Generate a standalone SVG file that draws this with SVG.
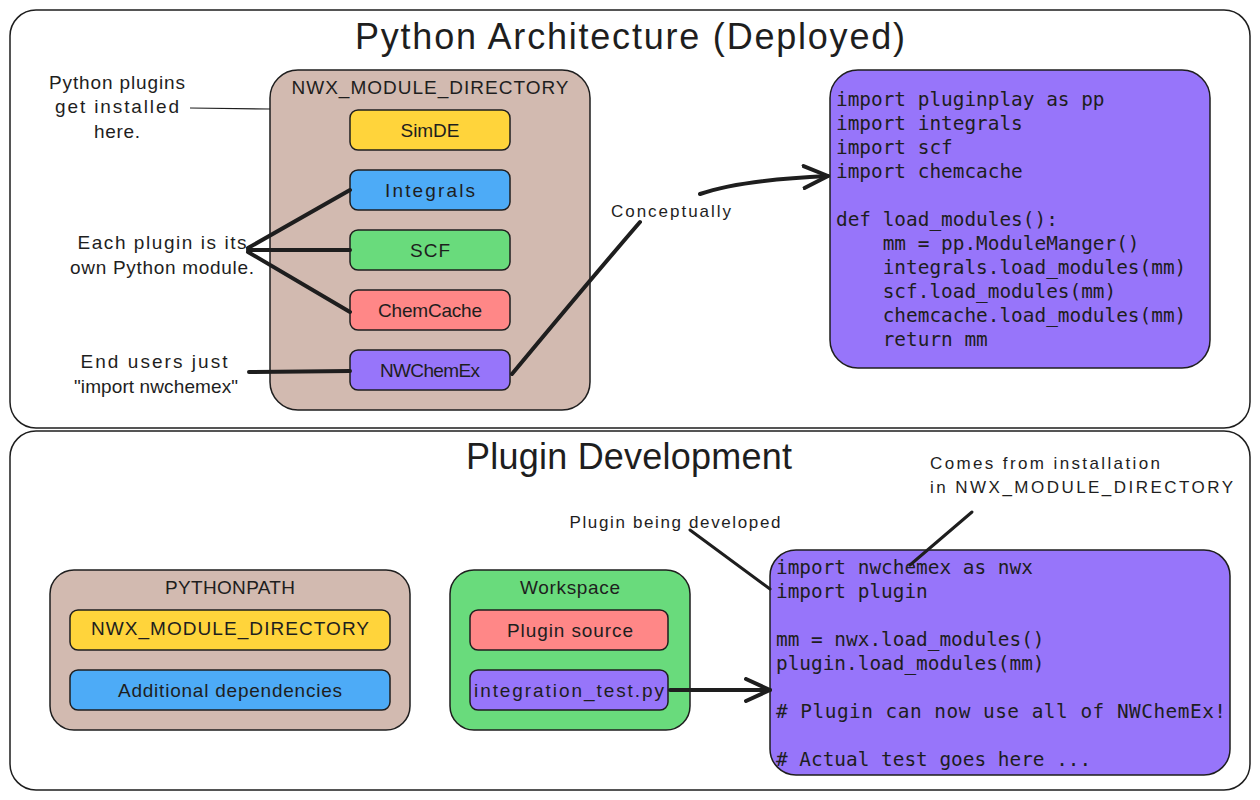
<svg xmlns="http://www.w3.org/2000/svg" width="1260" height="800" viewBox="0 0 1260 800">
<style>
.frame{fill:#fff;stroke:#1e1e1e;stroke-width:1.5}
.box{stroke:#1e1e1e;stroke-width:1.5}
.tan{fill:#d2bab0}
.yel{fill:#ffd43b}
.blu{fill:#4dabf7}
.grn{fill:#69db7c}
.red{fill:#ff8787}
.pur{fill:#9775fa}
.t{font-family:"Liberation Sans","Open Sans",sans-serif;fill:#1e1e1e}
.c{text-anchor:middle}
.code{font-family:"DejaVu Sans Mono","Liberation Mono",monospace;font-size:19.4px;fill:#1e1e1e}
.thick{fill:none;stroke:#1e1e1e;stroke-width:4;stroke-linecap:round}
.thin{fill:none;stroke:#1e1e1e;stroke-width:1.2}
.med{fill:none;stroke:#1e1e1e;stroke-width:3;stroke-linecap:round}
</style>
<defs>
<marker id="arr" viewBox="0 0 28 26" refX="26" refY="13" markerWidth="28" markerHeight="26" markerUnits="userSpaceOnUse" orient="auto">
<path d="M2,2 L26,13 L2,24" fill="none" stroke="#1e1e1e" stroke-width="4" stroke-linecap="round" stroke-linejoin="round"/>
</marker>
</defs>
<rect width="1260" height="800" fill="#fff"/>

<g id="frame-deployed">
<rect class="frame" x="10" y="10" width="1240" height="418" rx="26"/>
<text class="t c" x="630" y="49" font-size="36" textLength="550">Python Architecture (Deployed)</text>
</g>
<g id="frame-dev">
<rect class="frame" x="10" y="431" width="1240" height="359" rx="26"/>
<text class="t c" x="629" y="469" font-size="36" textLength="326">Plugin Development</text>
</g>

<g id="module-dir">
<rect class="box tan" x="270" y="70" width="320" height="340" rx="28"/>
<text class="t c" x="430" y="94" font-size="19" textLength="277">NWX_MODULE_DIRECTORY</text>
</g>
<g id="simde"><rect class="box yel" x="350" y="110" width="160" height="40" rx="8"/><text class="t c" x="430" y="137" font-size="19" textLength="59">SimDE</text></g>
<g id="integrals"><rect class="box blu" x="350" y="170" width="160" height="40" rx="8"/><text class="t c" x="430" y="197" font-size="19" textLength="90">Integrals</text></g>
<g id="scf"><rect class="box grn" x="350" y="230" width="160" height="40" rx="8"/><text class="t c" x="430" y="257" font-size="19" textLength="40">SCF</text></g>
<g id="chemcache"><rect class="box red" x="350" y="290" width="160" height="40" rx="8"/><text class="t c" x="430" y="317" font-size="19" textLength="104">ChemCache</text></g>
<g id="nwchemex"><rect class="box pur" x="350" y="350" width="160" height="40" rx="8"/><text class="t c" x="430" y="377" font-size="19" textLength="100">NWChemEx</text></g>

<g id="note-installed">
<text class="t c" x="117" y="89" font-size="19" textLength="136">Python plugins</text>
<text class="t c" x="117" y="113" font-size="19" textLength="124">get installed</text>
<text class="t c" x="117" y="138" font-size="19" textLength="46">here.</text>
</g>
<g id="note-each">
<text class="t c" x="162" y="249" font-size="19" textLength="169">Each plugin is its</text>
<text class="t c" x="162" y="274" font-size="19" textLength="184">own Python module.</text>
</g>
<g id="note-end">
<text class="t c" x="154" y="368" font-size="19" textLength="147">End users just</text>
<text class="t c" x="156" y="393" font-size="19" textLength="164">"import nwchemex"</text>
</g>

<g id="code-deployed">
<rect class="box pur" x="830" y="70" width="380" height="298" rx="28"/>
<text class="code" x="836" y="106">import pluginplay as pp</text>
<text class="code" x="836" y="130">import integrals</text>
<text class="code" x="836" y="154">import scf</text>
<text class="code" x="836" y="178">import chemcache</text>
<text class="code" x="836" y="226">def load_modules():</text>
<text class="code" x="836" y="250" xml:space="preserve">    mm = pp.ModuleManger()</text>
<text class="code" x="836" y="274" xml:space="preserve">    integrals.load_modules(mm)</text>
<text class="code" x="836" y="298" xml:space="preserve">    scf.load_modules(mm)</text>
<text class="code" x="836" y="322" xml:space="preserve">    chemcache.load_modules(mm)</text>
<text class="code" x="836" y="346" xml:space="preserve">    return mm</text>
</g>

<g id="pythonpath">
<rect class="box tan" x="50" y="570" width="360" height="160" rx="24"/>
<text class="t c" x="230" y="594" font-size="19" textLength="130">PYTHONPATH</text>
</g>
<g id="nwx-dir"><rect class="box yel" x="70" y="610" width="320" height="40" rx="8"/><text class="t c" x="230" y="635" font-size="19" textLength="278">NWX_MODULE_DIRECTORY</text></g>
<g id="additional"><rect class="box blu" x="70" y="670" width="320" height="40" rx="8"/><text class="t c" x="230" y="697" font-size="19" textLength="224">Additional dependencies</text></g>

<g id="workspace">
<rect class="box grn" x="450" y="570" width="240" height="160" rx="24"/>
<text class="t c" x="570" y="594" font-size="19" textLength="100">Workspace</text>
</g>
<g id="plugin-source"><rect class="box red" x="470" y="610" width="198" height="40" rx="8"/><text class="t c" x="570" y="637" font-size="19" textLength="126">Plugin source</text></g>
<g id="integration-test"><rect class="box pur" x="470" y="670" width="198" height="40" rx="8"/><text class="t c" x="569" y="697" font-size="19" textLength="190">integration_test.py</text></g>

<g id="code-dev">
<rect class="box pur" x="770" y="550" width="460" height="225" rx="26"/>
<text class="code" x="776" y="574">import nwchemex as nwx</text>
<text class="code" x="776" y="598">import plugin</text>
<text class="code" x="776" y="646">mm = nwx.load_modules()</text>
<text class="code" x="776" y="670">plugin.load_modules(mm)</text>
<text class="code" x="776" y="718" textLength="450"># Plugin can now use all of NWChemEx!</text>
<text class="code" x="776" y="766"># Actual test goes here ...</text>
</g>

<g id="note-dev">
<text class="t c" x="675" y="528" font-size="17" textLength="211">Plugin being developed</text>
</g>
<g id="note-comes">
<text class="t" x="930" y="469" font-size="17" textLength="230">Comes from installation</text>
<text class="t" x="930" y="493" font-size="17" textLength="303">in NWX_MODULE_DIRECTORY</text>
</g>

<g id="connectors">
<path class="thin" d="M190,108 L270,109"/>
<path class="thick" d="M248,248 L350,190"/>
<path class="thick" d="M248,250 L350,250"/>
<path class="thick" d="M248,252 L350,312"/>
<path class="thick" d="M249,372 L350,371"/>
<path class="thick" d="M512,374 Q590,280 640,222" />
<path class="thick" d="M700,194 Q740,180 828,176" marker-end="url(#arr)"/>
<text class="t c" x="671" y="217" font-size="17" textLength="120">Conceptually</text>
<path class="thick" d="M670,690 L770,690" marker-end="url(#arr)"/>
<path class="med" d="M690,530 L770,589"/>
<path class="med" d="M972,512 L910,565"/>
</g>
</svg>
